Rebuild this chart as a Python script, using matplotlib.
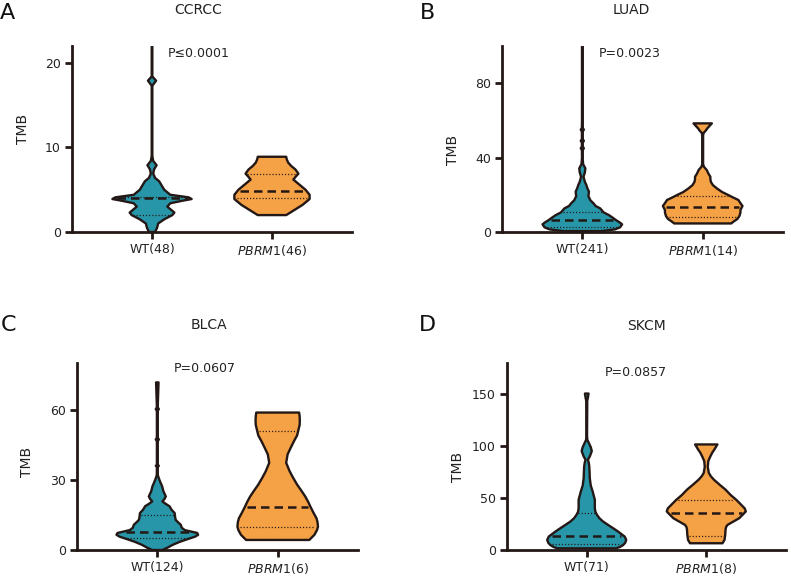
import numpy as np
import matplotlib
matplotlib.use("Agg")
import matplotlib.pyplot as plt

plt.rcParams['font.family'] = ['DejaVu Sans']
plt.rcParams['mathtext.fontset'] = 'dejavusans'

# ---------------- data ----------------
panels = ["A", "B", "C", "D"]
titles = ["CCRCC", "LUAD", "BLCA", "SKCM"]
pvalues = ["P\u22640.0001", "P=0.0023", "P=0.0607", "P=0.0857"]
wt_n = [48, 241, 124, 71]
pbrm1_n = [46, 14, 6, 8]
y_max = [22, 100, 80, 180]
y_ticks = [[0, 10, 20], [0, 40, 80], [0, 30, 60], [0, 50, 100, 150]]

# violin profiles: TMB value and relative density (half-width)
ccrcc_wt_y = [0, 0.5, 1.0, 1.5, 2.0, 2.3, 2.7, 3.0, 3.4, 3.7, 3.9, 4.1, 4.4, 5.0, 5.6,
              6.0, 6.4, 6.9, 7.4, 7.9, 8.4, 9.0, 17.3, 17.9, 18.4, 22]
ccrcc_wt_d = [3, 5, 6, 12, 20, 22, 18, 15, 18, 30, 39, 36, 18, 12, 9,
              7, 3, 1.2, 2, 4.5, 1.2, 0.3, 0.3, 4, 0.3, 0.3]
ccrcc_pb_y = [2.0, 2.3, 2.6, 3.2, 3.9, 4.4, 5.0, 5.5, 5.9, 6.2, 6.5, 6.9, 7.4, 7.8, 8.2, 8.6, 8.9]
ccrcc_pb_d = [14, 18, 22, 30, 37, 37, 33, 28, 24, 21, 23, 26, 23, 19, 16, 14.5, 14]

luad_wt_y = [0.5, 1.4, 2.5, 4.1, 5.0, 6.4, 8.0, 9.1, 10.5, 12.7, 14.0, 15.4, 17, 19.2, 21.7,
             23.5, 25.2, 27, 29.7, 32, 34.2, 36.5, 40, 44, 45, 46, 48, 49, 50, 54, 55, 56, 60, 100]
luad_wt_d = [19, 32, 37, 39, 37, 33, 29, 26, 21, 17.5, 13, 11, 8, 6, 6.5,
             5, 4, 2.5, 1.2, 2.5, 3, 0.8, 0.3, 0.4, 1.5, 0.4, 0.4, 1.5, 0.4, 0.4, 1.5, 0.4, 0.3, 0.3]
luad_pb_y = [4.6, 5.5, 7.0, 8.6, 10.5, 11.8, 14.0, 15.5, 17.2, 18.5, 19.9, 21.5, 23.4, 25.2,
             27.0, 28.5, 29.7, 31.5, 33.3, 35.1, 36.5, 52, 53.3, 54.5, 55.7, 57.2, 58.4]
luad_pb_d = [28, 30, 34, 36, 37, 37, 39, 37, 35, 30, 25, 19, 14, 10,
             8, 7.5, 7.5, 5.5, 4, 1.2, 0.4, 0.4, 1, 3, 4.5, 7, 9]

blca_wt_y = [0, 1.0, 2.2, 3.5, 4.7, 5.7, 6.5, 7.3, 7.9, 8.5, 9.5, 10.8, 12.0, 12.9, 14.0, 15.8,
             17.2, 18.7, 19.8, 20.8, 21.8, 22.9, 24.2, 25.1, 27.3, 29, 30.1, 32, 35.5, 36, 36.5,
             46.5, 47.3, 48, 59.5, 60.3, 61, 71.7]
blca_wt_d = [5, 10, 15, 22, 30, 37, 40, 39, 33, 27, 24, 23, 20, 18, 17.5, 17,
             14, 12, 8, 5, 7, 8.3, 7, 6, 4.7, 3, 2, 0.5, 0.4, 1.5, 0.4,
             0.4, 1.5, 0.4, 0.4, 1.5, 0.4, 1.2]
blca_pb_y = [4.3, 6.5, 8.5, 10.0, 12, 13.6, 16, 18.6, 20.5, 22.9, 25.5, 28.0, 31, 33.7, 37.3,
             40.9, 43.5, 46.6, 49, 51.7, 53.5, 55.2, 57.3, 58.8]
blca_pb_d = [31, 36, 38.5, 39.5, 39, 38, 35, 32, 30, 27, 23, 19, 15, 11.7, 8.3,
             9.7, 12.5, 16, 19, 20.5, 21.5, 21.7, 21.5, 21]

skcm_wt_y = [1.6, 3.0, 4.8, 7.0, 9.7, 12.9, 15.5, 17.7, 21, 24.2, 27.5, 30.6, 34, 37, 40.3, 44,
             48.4, 52, 56.5, 62, 69.3, 75, 80.6, 84, 87, 90, 95.2, 99, 103.2, 106, 110, 143.5,
             147, 150.6]
skcm_wt_d = [29, 33, 36, 38, 39, 37.5, 34, 31, 26, 21, 16, 12.5, 10, 8.5, 8, 8,
             8, 7, 5.8, 4, 3, 2.8, 2.5, 2, 1.2, 3, 5, 4, 2, 0.6, 0.3, 0.5,
             1.2, 1.8]
skcm_pb_y = [6.5, 9.7, 14.5, 19.4, 22, 24.2, 27.5, 30.6, 34, 37.1, 40, 44, 48.4, 53, 58.1, 63,
             67.7, 71, 74.2, 80, 85.5, 89, 93.5, 97.5, 101.6]
skcm_pb_d = [16, 18, 18.7, 19, 19.5, 21, 27, 32.5, 36, 39, 38, 34, 29.5, 24, 19, 13,
             7.5, 4.5, 2.5, 1.5, 2, 3.5, 5.8, 8.5, 11]

# quartiles and median (WT, PBRM1): [Q1, median, Q3]
wt_quart = [[2.0, 4.0, 4.1], [2.9, 6.5, 10.9], [5.0, 7.9, 14.8], [5.5, 13.5, 35.5]]
pb_quart = [[4.0, 4.9, 6.9], [8.2, 13.6, 19.4], [10.0, 18.4, 51.0], [13.9, 36.0, 48.0]]

profiles = [
    ((ccrcc_wt_y, ccrcc_wt_d), (ccrcc_pb_y, ccrcc_pb_d)),
    ((luad_wt_y, luad_wt_d), (luad_pb_y, luad_pb_d)),
    ((blca_wt_y, blca_wt_d), (blca_pb_y, blca_pb_d)),
    ((skcm_wt_y, skcm_wt_d), (skcm_pb_y, skcm_pb_d)),
]

# ---------------- styling ----------------
W, H = 791, 580
TEAL = "#2796a9"
ORANGE = "#f5a145"
DARK = "#231815"
SCALE = 1 / 118.0  # density -> half-width in x units

axes_px = [(72, 46, 352, 232), (502, 46, 783, 232), (77, 363, 358, 550), (507, 363, 786, 550)]
title_px = [(198, 10), (631, 10), (209, 325), (646, 326)]
letter_px = [(0, 13), (420, 13), (1, 325), (419, 325)]
p_px = [(168, 53.5), (599, 53.5), (174, 368.5), (605, 372.5)]
ylab_px = [(23, 129), (453, 150), (27, 462), (458, 467)]

fig = plt.figure(figsize=(W / 100, H / 100), dpi=100)


def fx(x):
    return x / W


def fy(y):
    return 1 - y / H


def draw_violin(ax, pos, ys, ds, quart, color):
    ys = np.asarray(ys, float)
    hw = np.asarray(ds, float) * SCALE
    xs = np.concatenate([pos - hw, (pos + hw)[::-1]])
    yy = np.concatenate([ys, ys[::-1]])
    ax.fill(xs, yy, facecolor=color, edgecolor=DARK, lw=1.7, joinstyle='round', zorder=2)
    for k, q in enumerate(quart):
        w = np.interp(q, ys, hw) * 0.93
        if k == 1:
            ax.plot([pos - w, pos + w], [q, q], color=DARK, lw=1.8, ls=(0, (3.4, 2.0)), zorder=3)
        else:
            ax.plot([pos - w, pos + w], [q, q], color=DARK, lw=0.9, ls=(0, (0.9, 1.6)), zorder=3)


for i in range(4):
    l, t, r, b = axes_px[i]
    ax = fig.add_axes([fx(l), fy(b), (r - l) / W, (b - t) / H])
    (wy, wd), (py, pd) = profiles[i]
    draw_violin(ax, 0, wy, wd, wt_quart[i], TEAL)
    draw_violin(ax, 1, py, pd, pb_quart[i], ORANGE)
    ax.set_xlim(-0.667, 1.667)
    ax.set_ylim(0, y_max[i])
    ax.set_yticks(y_ticks[i])
    ax.set_xticks([0, 1])
    ax.set_xticklabels([f"WT({wt_n[i]})", r"$\mathit{PBRM1}$" + f"({pbrm1_n[i]})"])
    for s in ["top", "right"]:
        ax.spines[s].set_visible(False)
    for s in ["left", "bottom"]:
        ax.spines[s].set_linewidth(2.0)
        ax.spines[s].set_color(DARK)
    ax.tick_params(axis='both', length=5, width=2.0, color=DARK, labelsize=9,
                   labelcolor="#222222", pad=3)
    ax.patch.set_alpha(0)

    fig.text(fx(title_px[i][0]), fy(title_px[i][1]), titles[i], ha='center', va='center',
             fontsize=10, color="#222222")
    fig.text(fx(letter_px[i][0]), fy(letter_px[i][1]), panels[i], ha='left', va='center',
             fontsize=16, color="#111111")
    fig.text(fx(p_px[i][0]), fy(p_px[i][1]), pvalues[i], ha='left', va='center',
             fontsize=9, color="#222222")
    fig.text(fx(ylab_px[i][0]), fy(ylab_px[i][1]), "TMB", ha='center', va='center',
             rotation=90, fontsize=10, color="#222222")

fig.savefig("out.png", dpi=100)
